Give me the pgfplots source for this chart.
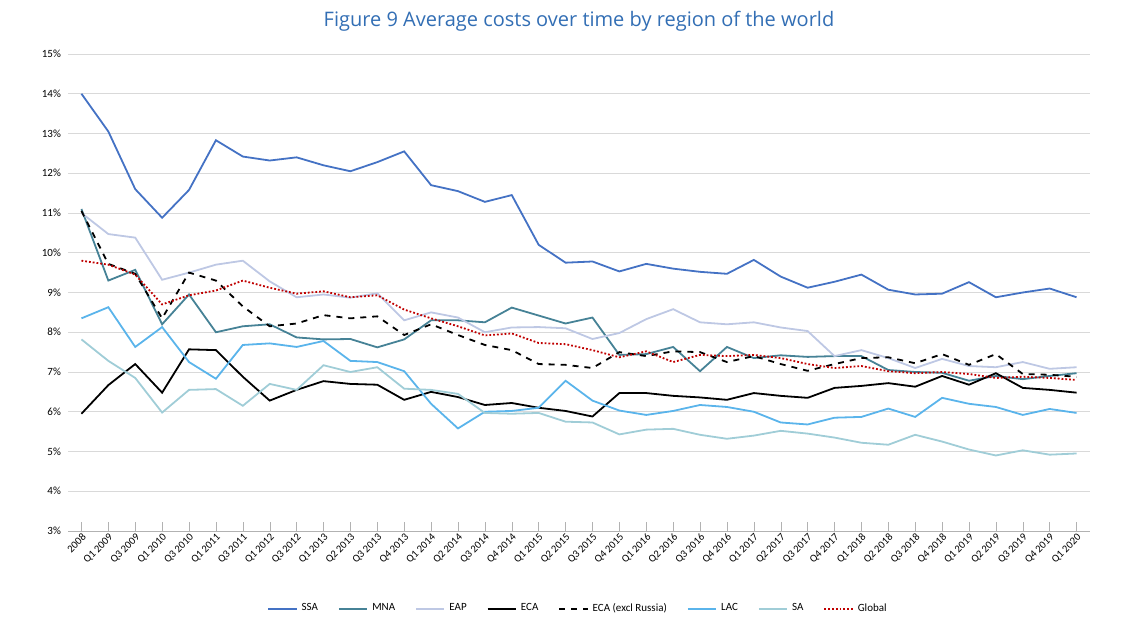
\documentclass[border=0pt]{standalone}
\usepackage{pgfplots}
\usepackage{pgfplotstable}
\pgfplotsset{compat=1.18}
\usepackage{fontspec}
\setmainfont{Carlito}
\newfontfamily\titlefont{Open Sans}
\definecolor{cssa}{RGB}{68,114,196}
\definecolor{cmna}{RGB}{70,130,150}
\definecolor{ceap}{RGB}{190,200,228}
\definecolor{clac}{RGB}{90,180,235}
\definecolor{csa}{RGB}{160,205,215}
\definecolor{cglob}{RGB}{192,0,0}
\definecolor{ctitle}{RGB}{50,110,180}
\pgfplotstableread{
i SSA MNA EAP ECA ECAX LAC SA GLOB
0 14.00 11.10 11.00 5.95 11.05 8.35 7.82 9.80
1 13.05 9.30 10.47 6.67 9.72 8.63 7.28 9.70
2 11.60 9.57 10.38 7.20 9.47 7.63 6.85 9.45
3 10.88 8.20 9.32 6.48 8.35 8.13 5.98 8.70
4 11.58 8.95 9.50 7.57 9.50 7.25 6.55 8.93
5 12.83 8.00 9.70 7.55 9.30 6.83 6.57 9.05
6 12.42 8.15 9.80 6.88 8.65 7.68 6.15 9.30
7 12.32 8.20 9.28 6.28 8.15 7.72 6.70 9.12
8 12.40 7.87 8.88 6.55 8.22 7.63 6.55 8.97
9 12.20 7.82 8.95 6.77 8.43 7.78 7.17 9.03
10 12.05 7.83 8.87 6.70 8.35 7.28 7.00 8.88
11 12.28 7.62 8.98 6.68 8.40 7.25 7.12 8.93
12 12.55 7.82 8.30 6.30 7.93 7.02 6.58 8.57
13 11.70 8.30 8.50 6.50 8.20 6.20 6.55 8.35
14 11.55 8.30 8.37 6.37 7.93 5.58 6.45 8.15
15 11.28 8.25 8.00 6.17 7.68 6.00 5.97 7.92
16 11.45 8.62 8.12 6.22 7.55 6.02 5.95 7.97
17 10.20 8.42 8.13 6.10 7.20 6.10 5.97 7.73
18 9.75 8.22 8.10 6.02 7.18 6.78 5.75 7.70
19 9.78 8.37 7.83 5.88 7.10 6.28 5.73 7.55
20 9.53 7.43 7.98 6.47 7.50 6.03 5.43 7.37
21 9.72 7.45 8.33 6.47 7.40 5.92 5.55 7.52
22 9.60 7.63 8.58 6.40 7.52 6.02 5.57 7.25
23 9.52 7.02 8.25 6.36 7.50 6.17 5.42 7.43
24 9.47 7.63 8.20 6.30 7.25 6.12 5.32 7.40
25 9.82 7.35 8.25 6.47 7.40 6.00 5.40 7.43
26 9.40 7.42 8.12 6.40 7.20 5.73 5.52 7.35
27 9.12 7.38 8.03 6.35 7.03 5.68 5.45 7.20
28 9.27 7.40 7.40 6.60 7.20 5.85 5.35 7.10
29 9.45 7.40 7.55 6.65 7.35 5.87 5.22 7.15
30 9.07 7.05 7.35 6.72 7.37 6.08 5.17 7.02
31 8.95 7.00 7.10 6.63 7.22 5.87 5.42 6.97
32 8.97 6.98 7.33 6.90 7.45 6.35 5.25 7.00
33 9.26 6.78 7.15 6.68 7.18 6.20 5.05 6.95
34 8.88 6.90 7.12 6.97 7.45 6.12 4.90 6.85
35 9.00 6.82 7.25 6.60 6.95 5.92 5.03 6.88
36 9.10 6.90 7.08 6.55 6.93 6.07 4.92 6.85
37 8.88 6.97 7.12 6.48 6.88 5.97 4.95 6.80
}\data
\begin{document}
\begin{tikzpicture}
\begin{axis}[
  scale only axis, width=511pt, height=238.5pt,
  xmin=-0.5, xmax=37.5, ymin=3, ymax=15,
  ytick={3,...,15}, yticklabel={\pgfmathprintnumber{\tick}\%},
  /pgf/number format/assume math mode=true,
  ymajorgrids, grid style={gray!30, line width=0.4pt},
  axis x line*=bottom, axis y line*=left,
  y axis line style={draw=none}, x axis line style={gray!60},
  ytick style={draw=none},
  xtick={0,...,37}, xtick style={gray!60},
  xticklabels={2008,Q1 2009,Q3 2009,Q1 2010,Q3 2010,Q1 2011,Q3 2011,Q1 2012,Q3 2012,Q1 2013,Q2 2013,Q3 2013,Q4 2013,Q1 2014,Q2 2014,Q3 2014,Q4 2014,Q1 2015,Q2 2015,Q3 2015,Q4 2015,Q1 2016,Q2 2016,Q3 2016,Q4 2016,Q1 2017,Q2 2017,Q3 2017,Q4 2017,Q1 2018,Q2 2018,Q3 2018,Q4 2018,Q1 2019,Q2 2019,Q3 2019,Q4 2019,Q1 2020},
  xticklabel style={rotate=45, anchor=north east, font=\fontsize{5.3}{6}\selectfont, inner sep=0.5pt},
  yticklabel style={font=\fontsize{5.5}{6}\selectfont},
  title={\titlefont\color{ctitle}Figure 9 Average costs over time by region of the world},
  title style={font=\fontsize{10}{12}\selectfont, yshift=2pt},
  legend style={at={(0.5,-0.163)}, anchor=center, draw=none, legend columns=-1,
    font=\fontsize{5.5}{6}\selectfont, /tikz/every even column/.append style={column sep=8pt}},
  legend image code/.code={\draw[#1] (0cm,0cm) -- (0.5cm,0cm);},
  every axis plot/.append style={line width=0.9pt, mark=none},
]
\addplot[cssa] table[x=i,y=SSA]{\data}; \addlegendentry{SSA}
\addplot[cmna] table[x=i,y=MNA]{\data}; \addlegendentry{MNA}
\addplot[ceap] table[x=i,y=EAP]{\data}; \addlegendentry{EAP}
\addplot[black] table[x=i,y=ECA]{\data}; \addlegendentry{ECA}
\addplot[black, dashed] table[x=i,y=ECAX]{\data}; \addlegendentry{ECA (excl Russia)}
\addplot[clac] table[x=i,y=LAC]{\data}; \addlegendentry{LAC}
\addplot[csa] table[x=i,y=SA]{\data}; \addlegendentry{SA}
\addplot[cglob, densely dotted] table[x=i,y=GLOB]{\data}; \addlegendentry{Global}
\end{axis}
\path (current axis.south west) ++(-34pt,-52pt);
\path (current axis.north east) ++(21pt,27pt);
\end{tikzpicture}
\end{document}
